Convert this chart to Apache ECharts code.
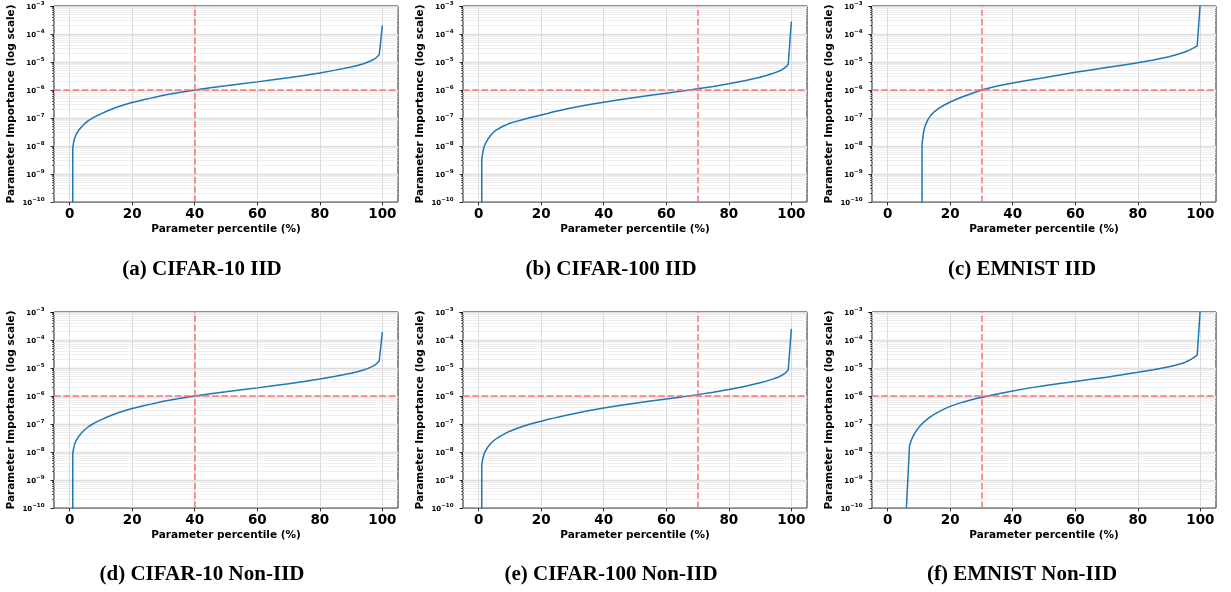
<!DOCTYPE html>
<html><head><meta charset="utf-8">
<script src="https://cdn.jsdelivr.net/npm/echarts@6/dist/echarts.min.js"></script>
<style>html,body{margin:0;padding:0;background:#fff}#c{width:1231px;height:592px}</style>
</head><body><div id="c"></div>
<script>
// ---------------- data ----------------
const CAPTIONS = ['(a) CIFAR-10 IID', '(b) CIFAR-100 IID', '(c) EMNIST IID',
                  '(d) CIFAR-10 Non-IID', '(e) CIFAR-100 Non-IID', '(f) EMNIST Non-IID'];
const X_TICKS = [0, 20, 40, 60, 80, 100];
const Y_DECADES = [1e-10, 1e-9, 1e-8, 1e-7, 1e-6, 1e-5, 1e-4, 1e-3];
const THRESH_X = [40, 70, 30, 40, 70, 30];
const THRESH_Y = 1e-6;
const X_AXIS_TITLE = 'Parameter percentile (%)';
const Y_AXIS_TITLE = 'Parameter Importance (log scale)';

// percentiles for the CIFAR panels (a, b, d, e); first point is a zero-importance value (off the log axis)
const X_CIFAR = [1, 1, 1.3, 1.6, 2, 3, 4, 5, 6, 7, 8, 9, 10, 12, 14, 16, 18, 20, 22, 24, 26, 28, 30, 35, 40, 45, 50, 55, 60, 65, 70, 75, 80, 85, 90, 92, 94, 95, 96, 97, 98, 99, 100];
const Y_A = [1e-14, 8.9e-9, 1.41e-8, 1.9e-8, 2.5e-8, 3.8e-8, 5.1e-8, 6.6e-8, 8.1e-8, 9.5e-8, 1.1e-7, 1.25e-7, 1.41e-7, 1.78e-7, 2.19e-7, 2.63e-7, 3.09e-7, 3.55e-7, 4.07e-7, 4.57e-7, 5.13e-7, 5.75e-7, 6.46e-7, 8.13e-7, 1e-6, 1.2e-6, 1.41e-6, 1.66e-6, 1.95e-6, 2.32e-6, 2.75e-6, 3.31e-6, 4.07e-6, 5.13e-6, 6.6e-6, 7.5e-6, 8.7e-6, 9.55e-6, 1.06e-5, 1.2e-5, 1.41e-5, 1.82e-5, 2e-4];
const Y_B = [1e-14, 3.09e-9, 5.6e-9, 8.3e-9, 1.12e-8, 1.78e-8, 2.51e-8, 3.31e-8, 3.94e-8, 4.57e-8, 5.19e-8, 5.82e-8, 6.46e-8, 7.59e-8, 8.71e-8, 1e-7, 1.14e-7, 1.29e-7, 1.46e-7, 1.66e-7, 1.86e-7, 2.09e-7, 2.34e-7, 2.95e-7, 3.63e-7, 4.47e-7, 5.37e-7, 6.46e-7, 7.67e-7, 9.12e-7, 1.1e-6, 1.33e-6, 1.66e-6, 2.14e-6, 2.85e-6, 3.31e-6, 3.89e-6, 4.27e-6, 4.68e-6, 5.37e-6, 6.31e-6, 8.13e-6, 2.8e-4];
const Y_D = [1e-14, 8.9e-9, 1.4e-8, 1.88e-8, 2.45e-8, 3.75e-8, 5.05e-8, 6.5e-8, 8e-8, 9.4e-8, 1.09e-7, 1.24e-7, 1.4e-7, 1.77e-7, 2.18e-7, 2.62e-7, 3.08e-7, 3.55e-7, 4.07e-7, 4.57e-7, 5.13e-7, 5.75e-7, 6.46e-7, 8.13e-7, 1e-6, 1.2e-6, 1.41e-6, 1.66e-6, 1.95e-6, 2.32e-6, 2.75e-6, 3.31e-6, 4.02e-6, 5.05e-6, 6.5e-6, 7.4e-6, 8.5e-6, 9.3e-6, 1.03e-5, 1.17e-5, 1.38e-5, 1.78e-5, 1.9e-4];
const Y_E = [1e-14, 3.4e-9, 5.5e-9, 7.6e-9, 1e-8, 1.55e-8, 2.1e-8, 2.63e-8, 3.16e-8, 3.7e-8, 4.27e-8, 4.9e-8, 5.5e-8, 6.76e-8, 8.13e-8, 9.55e-8, 1.1e-7, 1.26e-7, 1.45e-7, 1.62e-7, 1.82e-7, 2.04e-7, 2.29e-7, 2.95e-7, 3.72e-7, 4.57e-7, 5.5e-7, 6.6e-7, 7.76e-7, 9.3e-7, 1.12e-6, 1.35e-6, 1.7e-6, 2.2e-6, 2.95e-6, 3.4e-6, 4e-6, 4.4e-6, 4.8e-6, 5.5e-6, 6.5e-6, 8.5e-6, 2.5e-4];

const X_EMNIST_IID = [11, 11, 11.5, 12, 13, 14, 15, 16, 17, 18, 20, 22, 24, 26, 28, 30, 35, 40, 45, 50, 55, 60, 65, 70, 75, 80, 85, 90, 92, 94, 95, 96, 97, 98, 99, 100];
const Y_C = [1e-14, 1.2e-8, 3.16e-8, 5.37e-8, 9.33e-8, 1.32e-7, 1.7e-7, 2.07e-7, 2.45e-7, 2.85e-7, 3.72e-7, 4.68e-7, 5.75e-7, 6.92e-7, 8.32e-7, 1e-6, 1.38e-6, 1.78e-6, 2.24e-6, 2.75e-6, 3.43e-6, 4.27e-6, 5.19e-6, 6.31e-6, 7.67e-6, 9.33e-6, 1.17e-5, 1.55e-5, 1.78e-5, 2.09e-5, 2.29e-5, 2.51e-5, 2.82e-5, 3.24e-5, 3.8e-5, 1.5e-3];

const X_EMNIST_NONIID = [6, 7, 7.5, 8, 9, 10, 11, 12, 13, 14, 15, 16, 18, 20, 22, 24, 26, 28, 30, 35, 40, 45, 50, 55, 60, 65, 70, 75, 80, 85, 90, 92, 94, 95, 96, 97, 98, 99, 100];
const Y_F = [1e-10, 1.7e-8, 2.51e-8, 3.39e-8, 5.37e-8, 7.59e-8, 1.02e-7, 1.29e-7, 1.58e-7, 1.91e-7, 2.24e-7, 2.6e-7, 3.39e-7, 4.27e-7, 5.13e-7, 6.03e-7, 6.92e-7, 7.94e-7, 8.91e-7, 1.17e-6, 1.51e-6, 1.91e-6, 2.32e-6, 2.79e-6, 3.31e-6, 3.94e-6, 4.68e-6, 5.69e-6, 7e-6, 8.71e-6, 1.1e-5, 1.26e-5, 1.45e-5, 1.58e-5, 1.78e-5, 2.04e-5, 2.4e-5, 2.95e-5, 1.5e-3];

const PANEL_X = [X_CIFAR, X_CIFAR, X_EMNIST_IID, X_CIFAR, X_CIFAR, X_EMNIST_NONIID];
const PANEL_Y = [Y_A, Y_B, Y_C, Y_D, Y_E, Y_F];

// ---------------- layout ----------------
const LEFTS = [54, 463, 872];
const TOPS = [6, 312];
const GW = 344, GH = 196;
const X_MIN = -5, X_MAX = 105;
const CAP_X = [202, 611, 1022];
const CAP_Y = [270, 575];

// minor log gridline positions (2..9 x 10^n)
const MINOR_Y = [];
for (let e = -10; e < -3; e++) for (let k = 2; k <= 9; k++) MINOR_Y.push(+(k + 'e' + e));

const FONT = 'DejaVu Sans';
const grids = [], xAxes = [], yAxes = [], series = [], graphics = [];

for (let i = 0; i < 6; i++) {
  const r = Math.floor(i / 3), c = i % 3;
  grids.push({ left: LEFTS[c], top: TOPS[r], width: GW, height: GH, show: true,
    borderColor: '#1a1a1a', borderWidth: 1, backgroundColor: 'transparent', outerBoundsMode: 'none', containLabel: false });
  xAxes.push({ type: 'value', gridIndex: i, min: X_MIN, max: X_MAX,
    axisLine: { show: false, onZero: false },
    axisTick: { show: true, customValues: X_TICKS, length: 3.5, lineStyle: { color: '#000', width: 0.8 } },
    axisLabel: { customValues: X_TICKS, fontFamily: FONT, fontWeight: 'bold', fontSize: 13.5, color: '#000', margin: 5 },
    splitLine: { show: false },
    name: X_AXIS_TITLE, nameLocation: 'middle', nameGap: 22,
    nameTextStyle: { fontFamily: FONT, fontWeight: 'bold', fontSize: 10.5, color: '#000' }
  });
  yAxes.push({ type: 'log', logBase: 10, gridIndex: i, min: 1e-10, max: 1e-3, interval: 1,
    axisLine: { show: false, onZero: false },
    axisTick: { show: true, length: 3.5, lineStyle: { color: '#000', width: 0.8 } },
    minorTick: { show: true, splitNumber: 9, length: 2, lineStyle: { color: '#000', width: 0.6 } },
    axisLabel: { margin: 9.5, formatter: v => '{b|10}{s|\u2212' + Math.abs(Math.round(Math.log10(v))) + '}',
      rich: { b: { fontFamily: FONT, fontWeight: 'bold', fontSize: 7, color: '#000', verticalAlign: 'bottom' },
              s: { fontFamily: FONT, fontWeight: 'bold', fontSize: 5.5, color: '#000', verticalAlign: 'top', padding: [0, 0, 4, 0] } } },
    splitLine: { show: false },
    name: Y_AXIS_TITLE, nameLocation: 'middle', nameGap: 37,
    nameTextStyle: { fontFamily: FONT, fontWeight: 'bold', fontSize: 10.5, color: '#000' }
  });
  // background grid (minor + major horizontal, vertical at x ticks)
  const gl = [];
  MINOR_Y.forEach(v => gl.push({ coords: [[X_MIN, v], [X_MAX, v]], lineStyle: { color: '#ececec', width: 0.8 } }));
  Y_DECADES.forEach(v => gl.push({ coords: [[X_MIN, v], [X_MAX, v]], lineStyle: { color: '#dedede', width: 1.3 } }));
  X_TICKS.forEach(v => gl.push({ coords: [[v, 1e-10], [v, 1e-3]], lineStyle: { color: '#dcdcdc', width: 1 } }));
  series.push({ type: 'lines', coordinateSystem: 'cartesian2d', xAxisIndex: i, yAxisIndex: i,
    silent: true, z: 1, animation: false, lineStyle: { opacity: 1, curveness: 0 }, data: gl });
  // curve
  const pts = PANEL_X[i].map((x, j) => [x, PANEL_Y[i][j]]);
  series.push({ type: 'line', xAxisIndex: i, yAxisIndex: i, data: pts, showSymbol: false, z: 3,
    clip: true, lineStyle: { color: '#1f77b4', width: 1.5 }, animation: false });
  // red dashed thresholds
  series.push({ type: 'lines', coordinateSystem: 'cartesian2d', xAxisIndex: i, yAxisIndex: i,
    silent: true, z: 4, animation: false,
    lineStyle: { color: '#ff6b6b', width: 1.5, type: [6.5, 2.8], opacity: 0.95, curveness: 0 },
    data: [{ coords: [[THRESH_X[i], 1e-10], [THRESH_X[i], 1e-3]] },
           { coords: [[X_MIN, THRESH_Y], [X_MAX, THRESH_Y]] }] });
  graphics.push({ type: 'text', x: CAP_X[c], y: CAP_Y[r],
    style: { text: CAPTIONS[i], textAlign: 'center', textVerticalAlign: 'middle',
      font: 'bold 21px "Liberation Serif"', fill: '#000' } });
}

const chart = echarts.init(document.getElementById('c'), null, { renderer: 'canvas' });
chart.setOption({ animation: false, backgroundColor: '#fff', grid: grids, xAxis: xAxes, yAxis: yAxes,
  series: series, graphic: graphics });
</script></body></html>
